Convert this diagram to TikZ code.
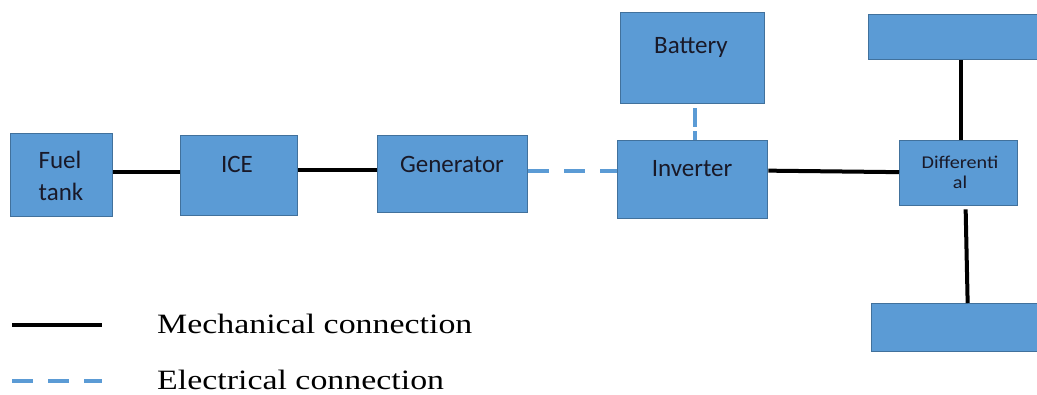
\documentclass[tikz,border=0pt]{standalone}
\usepackage{fontspec}
\setmainfont{Liberation Serif}
\newfontfamily\boxfont{Carlito}
\definecolor{boxfill}{HTML}{5B9BD5}
\definecolor{boxline}{HTML}{41719C}
\definecolor{elec}{HTML}{5B9BD5}
\definecolor{textc}{RGB}{25,25,40}
\begin{document}
\begin{tikzpicture}[x=1pt,y=-1pt,
  box/.style={draw=boxline, line width=1.3pt, fill=boxfill, rectangle, inner sep=0pt, anchor=north west},
  btxt/.style={font=\boxfont\fontsize{25}{31}\selectfont, text=textc, anchor=base, inner sep=0pt, align=center},
  dtxt/.style={font=\boxfont\fontsize{18}{20}\selectfont, text=textc, anchor=base, inner sep=0pt},
  mech/.style={draw=black, line width=4pt},
  elecline/.style={draw=elec, line width=4pt, dash pattern=on 21pt off 15pt},
  legtxt/.style={font=\fontsize{28}{32}\selectfont, text=black, anchor=base west, inner sep=0pt}]
\path[use as bounding box, clip] (0,0) rectangle (1037,394);
% boxes
\node[box, minimum width=102pt, minimum height=83pt] (fuel) at (10,133) {};
\node[box, minimum width=117pt, minimum height=80pt] (ice) at (180,135) {};
\node[box, minimum width=150pt, minimum height=77pt] (gen) at (377,135) {};
\node[box, minimum width=144pt, minimum height=91pt] (bat) at (620,12) {};
\node[box, minimum width=150pt, minimum height=78pt] (inv) at (617,140) {};
\node[box, minimum width=118pt, minimum height=65pt] (diff) at (899,140) {};
\node[box, minimum width=190pt, minimum height=45pt] (topw) at (868,14) {};
\node[box, minimum width=190pt, minimum height=48pt] (botw) at (871,303) {};
% texts
\node[btxt] (fuelt1) at (60,168) {Fuel};
\node[btxt] (fuelt2) at (61,200) {tank};
\node[btxt] (icet) at (237,172) {ICE};
\node[btxt] (gent) at (452,172) {Generator};
\node[btxt] (batt) at (691,53) {Battery};
\node[btxt] (invt) at (692,176) {Inverter};
\node[dtxt] (difft1) at (960,168) {\scalebox{1.12}[1]{Differenti}};
\node[dtxt] (difft2) at (960,188) {\scalebox{1.12}[1]{al}};
% connections
\draw[mech] ([yshift=3.5pt]fuel.east) -- ([yshift=3.5pt]fuel.east -| ice.west);
\draw[mech] ([yshift=6pt]ice.east) -- ([yshift=6pt]ice.east -| gen.west);
\draw[elecline] ([yshift=3.5pt]gen.east) -- ([yshift=3.5pt]gen.east -| inv.west);
\draw[elecline, dash pattern=on 19pt off 4pt] ([xshift=2pt,yshift=-4pt]bat.south) -- ([xshift=2pt]bat.south |- inv.north);
\draw[mech] ([yshift=9pt]inv.east) -- ([yshift=1pt]diff.west);
\draw[mech] ([xshift=2pt]diff.north) -- ([xshift=2pt]diff.north |- topw.south);
\draw[mech] ([xshift=7pt,yshift=-3pt]diff.south) -- ([xshift=9pt]diff.south |- botw.north);
% legend
\coordinate (m1) at (12,325);
\coordinate (m2) at (102,325);
\coordinate (e1) at (12,381);
\coordinate (e2) at (102,381);
\draw[mech] (m1) -- (m2);
\draw[elecline] (e1) -- (e2);
\node[legtxt] (mtxt) at (157,333) {\scalebox{1.21}[1]{Mechanical connection}};
\node[legtxt] (etxt) at (157,389) {\scalebox{1.21}[1]{Electrical connection}};
\end{tikzpicture}
\end{document}
